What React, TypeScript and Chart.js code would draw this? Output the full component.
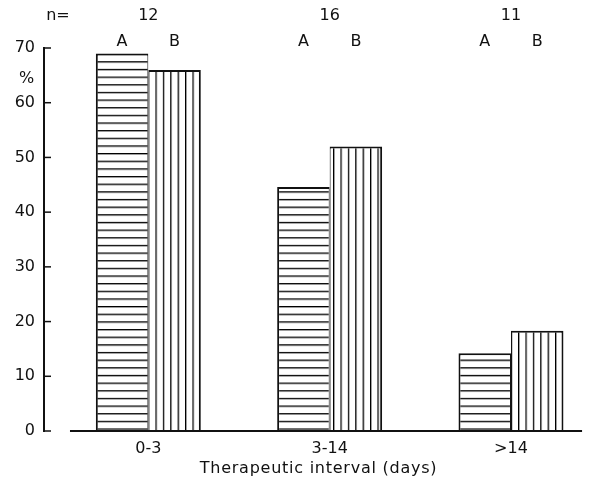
import React, { useEffect, useRef } from 'react';
import { Chart, registerables } from 'chart.js';

Chart.register(...registerables);

const categories = ['0-3', '3-14', '>14'];
const groupCounts = ['12', '16', '11'];
const positions = [1, 2, 3];
const seriesA = [69, 44.6, 14.2];
const seriesB = [66, 52, 18.3];
const seriesLabels = ['A', 'B'];
const yTickValues = [0, 10, 20, 30, 40, 50, 60, 70];
const xTitle = 'Therapeutic interval (days)';
const yUnit = '%';
const countPrefix = 'n=';

const FONT = '"DejaVu Sans", sans-serif';
const INK = '#111111';

function makePattern(dir: 'h' | 'v', step: number) {
  const c = document.createElement('canvas');
  c.width = 8;
  c.height = 8;
  const g = c.getContext('2d')!;
  g.fillStyle = '#ffffff';
  g.fillRect(0, 0, 8, 8);
  g.fillStyle = '#000000';
  if (dir === 'h') g.fillRect(0, 0, 8, 1.4);
  else g.fillRect(0, 0, 1.4, 8);
  const p = g.createPattern(c, 'repeat')!;
  const m = new DOMMatrix();
  if (dir === 'h') m.scaleSelf(1, step / 8);
  else m.scaleSelf(step / 8, 1);
  p.setTransform(m);
  return p;
}

const decor = {
  id: 'decor',
  afterDraw(chart: any) {
    const ctx = chart.ctx;
    const xs = chart.scales.x;
    const ys = chart.scales.y;
    const left = chart.chartArea.left;
    ctx.save();
    ctx.strokeStyle = INK;
    // inward y ticks
    ctx.lineWidth = 1.5;
    yTickValues.forEach((v) => {
      const py = ys.getPixelForValue(v);
      ctx.beginPath();
      ctx.moveTo(left, py);
      ctx.lineTo(left + 7, py);
      ctx.stroke();
    });
    // x baseline
    const by = ys.getPixelForValue(0);
    ctx.lineWidth = 2;
    ctx.beginPath();
    ctx.moveTo(xs.getPixelForValue(0.568), by);
    ctx.lineTo(xs.getPixelForValue(3.392), by);
    ctx.stroke();

    ctx.fillStyle = INK;
    ctx.font = '16px ' + FONT;
    ctx.textAlign = 'center';
    ctx.textBaseline = 'alphabetic';
    ctx.fillText(countPrefix, 58, 20);
    positions.forEach((p, i) => {
      ctx.fillText(groupCounts[i], xs.getPixelForValue(p), 20);
    });
    [0, 1].forEach((d) => {
      const meta = chart.getDatasetMeta(d);
      meta.data.forEach((bar: any) => {
        ctx.fillText(seriesLabels[d], bar.x, 46);
      });
    });
    ctx.fillText(yUnit, 26.5, 83);
    (ctx as any).letterSpacing = '0.75px';
    ctx.fillText(xTitle, 318.5, 473);
    ctx.restore();
  },
};

export default function App() {
  const ref = useRef<HTMLCanvasElement>(null);
  useEffect(() => {
    document.body.style.margin = '0';
    const patA = makePattern('h', 7.65);
    const patB = makePattern('v', 7.4);
    Chart.defaults.font.family = FONT;
    Chart.defaults.font.size = 16;
    Chart.defaults.color = INK;
    const chart = new Chart(ref.current!, {
      type: 'bar',
      data: {
        datasets: [
          {
            label: seriesLabels[0],
            data: positions.map((p, i) => ({ x: p, y: seriesA[i] })),
            backgroundColor: patA as any,
            borderColor: INK,
            borderWidth: { top: 2, left: 2, right: 1, bottom: 0 } as any,
            borderSkipped: false,
          },
          {
            label: seriesLabels[1],
            data: positions.map((p, i) => ({ x: p, y: seriesB[i] })),
            backgroundColor: patB as any,
            borderColor: INK,
            borderWidth: { top: 2, left: 1, right: 2, bottom: 0 } as any,
            borderSkipped: false,
          },
        ],
      },
      options: {
        animation: false,
        responsive: false,
        maintainAspectRatio: false,
        layout: { padding: { top: 48, left: 0, right: 0, bottom: 0 } },
        datasets: { bar: { categoryPercentage: 0.579, barPercentage: 1 } },
        plugins: { legend: { display: false }, tooltip: { enabled: false } },
        scales: {
          x: {
            type: 'linear',
            offset: false,
            min: 0.4247,
            max: 3.4468,
            grid: { display: false, drawTicks: false, offset: false },
            border: { display: false },
            afterBuildTicks: (s: any) => {
              s.ticks = positions.map((v) => ({ value: v }));
            },
            afterFit: (s: any) => {
              s.height = 53;
            },
            ticks: {
              padding: 8,
              maxRotation: 0,
              autoSkip: false,
              callback: (_v: any, i: number) => categories[i],
            },
          },
          y: {
            min: 0,
            max: 70,
            grid: { display: false, drawTicks: false },
            border: { display: true, color: INK, width: 2 },
            afterBuildTicks: (s: any) => {
              s.ticks = yTickValues.map((v) => ({ value: v }));
            },
            afterFit: (s: any) => {
              s.width = 44;
            },
            ticks: { padding: 9 },
          },
        },
      },
      plugins: [decor],
    });
    return () => chart.destroy();
  }, []);
  return (
    <div style={{ width: 592, height: 484, background: '#fff' }}>
      <canvas ref={ref} width={592} height={484} style={{ display: 'block' }} />
    </div>
  );
}
